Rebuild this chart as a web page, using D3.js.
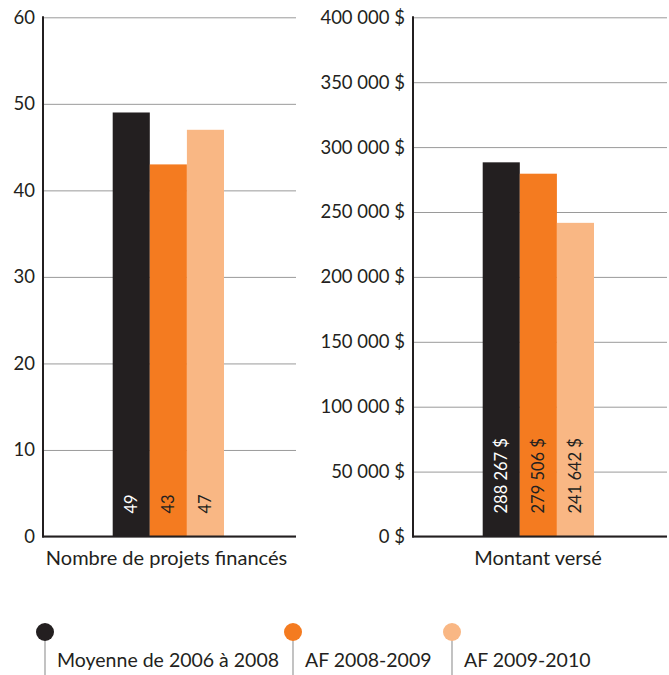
<!DOCTYPE html>
<html><head><meta charset="utf-8">
<script src="https://cdn.jsdelivr.net/npm/d3@7"></script>
<style>body{margin:0;background:#fff}svg{display:block}text{font-family:Lato,"Noto Sans",sans-serif;fill:#231f20}</style>
</head><body><svg id="c" width="669" height="675"></svg>
<script>
const series = ["Moyenne de 2006 à 2008", "AF 2008-2009", "AF 2009-2010"];
const colors = ["#231f20", "#f47b20", "#f9b784"];
const labelColors = ["#ffffff", "#231f20", "#231f20"];
const projets = [49, 43, 47];
const montants = [288267, 279506, 241642];
const projetsTicks = [0, 10, 20, 30, 40, 50, 60];
const montantsTicks = [0, 50000, 100000, 150000, 200000, 250000, 300000, 350000, 400000];
const categories = ["Nombre de projets financés", "Montant versé"];

const loc = d3.formatLocale({decimal: ",", thousands: " ", grouping: [3], currency: ["", " $"]});
const fmtMoney = loc.format("$,");
const fmtInt = d3.format("d");

const svg = d3.select("#c");

function panel(cfg) {
  const g = svg.append("g");
  const y = d3.scaleLinear().domain(cfg.domain).range([536.5, cfg.top]);
  const x = d3.scaleBand().domain(series).range(cfg.bars).padding(0);
  const ax = g.append("g").attr("transform", `translate(${cfg.x0},0)`)
    .call(d3.axisLeft(y).tickValues(cfg.ticks).tickSize(-(cfg.x1 - cfg.x0)).tickPadding(8).tickFormat(cfg.fmt));
  ax.select(".domain").remove();
  ax.selectAll(".tick line").attr("stroke", "#9a9a9a").attr("stroke-width", 1);
  ax.selectAll(".tick text").attr("font-size", 18.5).attr("fill", "#231f20").attr("font-family", "Lato, sans-serif");
  g.selectAll("rect.bar").data(cfg.values).join("rect").attr("class", "bar")
    .attr("x", (d, i) => x(series[i])).attr("width", x.bandwidth())
    .attr("y", d => y(d)).attr("height", d => y(0) - y(d))
    .attr("fill", (d, i) => colors[i]);
  g.selectAll("text.val").data(cfg.values).join("text").attr("class", "val")
    .attr("transform", (d, i) => `translate(${x(series[i]) + x.bandwidth() / 2},${y(0) - 23}) rotate(-90)`)
    .attr("dy", "0.36em").attr("text-anchor", "start").attr("font-size", 16.5)
    .style("fill", (d, i) => labelColors[i]).text(cfg.valFmt);
  g.append("line").attr("x1", cfg.x0).attr("x2", cfg.x0).attr("y1", y.range()[1] - 1).attr("y2", 537.5)
    .attr("stroke", "#231f20").attr("stroke-width", 2);
  g.append("line").attr("x1", cfg.x0 - 1).attr("x2", cfg.x1).attr("y1", 536.5).attr("y2", 536.5)
    .attr("stroke", "#231f20").attr("stroke-width", 2.2);
  g.append("text").attr("x", (cfg.x0 + cfg.x1) / 2 + cfg.labelShift).attr("y", 565)
    .attr("text-anchor", "middle").attr("font-size", 20).text(cfg.category);
}

panel({domain: [0, 60], top: 17.3, ticks: projetsTicks, fmt: fmtInt, values: projets, valFmt: fmtInt,
  x0: 43, x1: 296, bars: [112.7, 224], category: categories[0], labelShift: -3});
panel({domain: [0, 400000], top: 17.3, ticks: montantsTicks, fmt: fmtMoney, values: montants, valFmt: fmtMoney,
  x0: 413, x1: 667, bars: [482.7, 594], category: categories[1], labelShift: -2});

const legX = [45, 293, 452];
const lg = svg.append("g");
series.forEach((s, i) => {
  lg.append("line").attr("x1", legX[i]).attr("x2", legX[i]).attr("y1", 632).attr("y2", 675)
    .attr("stroke", "#9a9a9a").attr("stroke-width", 1.2);
  lg.append("circle").attr("cx", legX[i]).attr("cy", 632).attr("r", 9).attr("fill", colors[i]);
  lg.append("text").attr("x", legX[i] + 12).attr("y", 667).attr("font-size", 19.5).text(s);
});
</script></body></html>
